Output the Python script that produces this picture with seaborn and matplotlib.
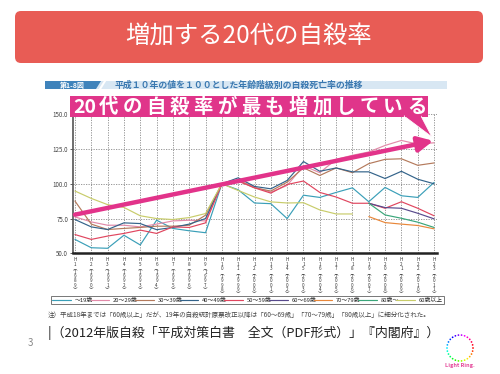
import numpy as np
import pandas as pd
import matplotlib
matplotlib.use('Agg')
import matplotlib.pyplot as plt
from matplotlib.patches import FancyBboxPatch, Polygon, Rectangle
import seaborn as sns

# 横軸（平成／西暦）
nen = ['H%d' % i for i in range(1, 24)]
seireki = ['1989', '1990', '1991', '1992', '1993', '1994', '1995', '1996',
           '1997', '1998', '1999', '2000', '2001', '2002', '2003', '2004',
           '2005', '2006', '2007', '2008', '2009', '2010', '2011']

# 年齢階級と色
kaikyu = ['～19歳', '20～29歳', '30～39歳', '40～49歳', '50～59歳',
          '60～69歳', '70～79歳', '80歳～', '60歳以上']
iro = ['#3a9fb8', '#e28aa9', '#b47a5c', '#33638a', '#e0465f',
       '#584a8c', '#e8873a', '#3aa67a', '#c8cc6a']

nan = np.nan
s_10 = [60, 54, 53.6, 63, 56, 73.8, 67.9, 66.2, 64.8, 100, 95.7, 86.2,
        85.7, 75, 91.8, 90.2, 93.8, 97.1, 87.1, 97.4, 91.4, 90.2, 101]
s_20 = [76.2, 72.6, 70.2, 70.2, 69, 71, 73.3, 73.8, 73.3, 100, 102.9, 97.6,
        94, 98.8, 113, 108, 117.6, 120.5, 122.9, 127.6, 131.2, 128.5, 129.5]
s_30 = [87.6, 71, 67.1, 67.9, 68.6, 69.5, 69.5, 70.2, 77.4, 100, 102.4, 97.1,
        94.8, 101.2, 111.5, 106, 111.4, 108, 114.5, 117.6, 118, 113.3, 115]
s_40 = [74.3, 69, 67.1, 71.9, 71.4, 67, 68.6, 71, 75, 100, 104.3, 98.1,
        96.4, 102.4, 116, 109, 111.4, 108.6, 108.6, 103.8, 109, 103.3, 100]
s_50 = [63.5, 60, 62.4, 64.3, 66.7, 64.3, 69, 68.6, 71.9, 100, 101.9, 97.1,
        93.3, 99.5, 102, 93.8, 90.5, 86, 86, 82.4, 87.1, 82.4, 77]
s_60 = [nan] * 18 + [86, 82.9, 82.4, 78.8, 74.8]
s_70 = [nan] * 18 + [76.4, 72.1, 71, 70, 67.6]
s_80 = [nan] * 18 + [86, 77.6, 75.2, 72.4, 68.6]
s_60ijo = [94.8, 89.5, 85, 83, 77, 75, 74.3, 75.7, 78.6, 100, 95.2, 90.5,
           87, 86.2, 86.4, 81.2, 78.3, 78.3] + [nan] * 5

keiretsu = [s_10, s_20, s_30, s_40, s_50, s_60, s_70, s_80, s_60ijo]

rows = []
for name, vals in zip(kaikyu, keiretsu):
    for i, v in enumerate(vals):
        if not np.isnan(v):
            rows.append((i, v, name))
df = pd.DataFrame(rows, columns=['x', 'val', 'kaikyu'])

sns.set_style('white')
plt.rcParams['font.family'] = ['Noto Sans CJK JP', 'DejaVu Sans']

W, H = 500, 374
fig = plt.figure(figsize=(5, 3.74), dpi=100)
fig.patch.set_facecolor('white')

# グラフ本体
ax = fig.add_axes([73 / W, 1 - 253.3 / H, (437 - 73) / W, (253.3 - 114.3) / H])
sns.lineplot(data=df, x='x', y='val', hue='kaikyu', hue_order=kaikyu,
             palette=dict(zip(kaikyu, iro)), lw=0.85, estimator=None,
             sort=False, ax=ax)

ax.set_xlim(-0.12, 22.18)
ax.set_ylim(50, 150)
ax.set_yticks([50, 75, 100, 125, 150])
ax.set_yticklabels(['50.0', '75.0', '100.0', '125.0', '150.0'])
ax.set_xticks(range(len(nen)))
xlabels = []
for n, s in zip(nen, seireki):
    xlabels.append('\n'.join(list(n)) + '\n︵\n' + '\n'.join(list(s)) + '\n︶')
ax.set_xticklabels(xlabels, fontsize=3.3, linespacing=0.8, va='top')
ax.set_xlabel('')
ax.set_ylabel('')
ax.grid(True, ls=(0, (1.5, 1.5)), color='#888888', lw=0.6)
for k in ['top', 'right']:
    ax.spines[k].set_visible(False)
ax.spines['left'].set_color('#555555')
ax.spines['left'].set_linewidth(1.2)
ax.spines['bottom'].set_color('#222222')
ax.spines['bottom'].set_linewidth(1.8)
ax.tick_params(axis='y', length=2, width=0.6, labelsize=4.5, pad=1.5,
               colors='#444444', left=True)
ax.tick_params(axis='x', length=0, pad=3, colors='#333333')

# 増加の矢印
ax.annotate('', xy=(21.95, 130.9), xytext=(0, 77.8),
            arrowprops=dict(arrowstyle='-|>,head_length=0.9,head_width=0.45',
                            color='#e2338a', lw=3.2, shrinkA=0, shrinkB=0),
            zorder=10)

handles, labels = ax.get_legend_handles_labels()
ax.get_legend().remove()
leg = fig.legend(handles, labels, loc='lower left',
                 bbox_to_anchor=(48 / W, 1 - 307 / H, 399 / W, 10 / H),
                 mode='expand', ncol=9, fontsize=4.2, handlelength=3.2,
                 handletextpad=0.6, columnspacing=1.0, borderpad=0.25,
                 frameon=True, fancybox=False, edgecolor='#555555')
leg.get_frame().set_linewidth(0.7)

# 上に重ねる層（ピクセル座標）
ov = fig.add_axes([0, 0, 1, 1], zorder=5)
ov.set_xlim(0, W)
ov.set_ylim(H, 0)
ov.axis('off')
ov.patch.set_alpha(0)

# タイトル帯
ov.add_patch(FancyBboxPatch((15, 11), 468, 52,
                            boxstyle='round,pad=0,rounding_size=6',
                            fc='#e85c55', ec='none'))
ov.text(249, 37, '増加する20代の自殺率', color='white', fontsize=17.6,
        ha='center', va='center')

# 図の見出し
ov.add_patch(Rectangle((45, 81), 402, 8, fc='#d8e7f3', ec='none'))
ov.add_patch(Polygon([(45, 81), (101, 81), (96, 89), (45, 89)],
                     closed=True, fc='#3f83bb', ec='none'))
ov.plot([105, 100], [81, 89], color='white', lw=1.5)
ov.text(72, 85.2, '第1-8図', color='white', fontsize=5, fontweight='bold',
        ha='center', va='center')
ov.text(115, 85.2, '平成１０年の値を１００とした年齢階級別の自殺死亡率の推移',
        color='#3a78b0', fontsize=6.4, fontweight='bold', ha='left', va='center')

# 吹き出し
ov.add_patch(Rectangle((70, 96), 358, 21, fc='#e0358a', ec='none'))
ov.add_patch(Polygon([(404, 116), (421, 116), (432, 137)], closed=True,
                     fc='#e0358a', ec='white', lw=0.6))
ov.add_patch(Rectangle((404.5, 115.2), 16, 1.6, fc='#e0358a', ec='none'))
moji = ['20', '代', 'の', '自', '殺', '率', 'が', '最', 'も', '増', '加',
        'し', 'て', 'い', 'る']
for xc, m in zip(np.linspace(85, 416.7, len(moji)), moji):
    ov.text(xc, 107, m, color='white', fontsize=14, fontweight='bold',
            ha='center', va='center')

# 注と出典
ov.text(48, 314.5, '注）平成18年までは「60歳以上」だが、19年の自殺統計原票改正以降は'
        '「60～69歳」「70～79歳」「80歳以上」に細分化された。',
        color='#444444', fontsize=4.7, ha='left', va='center')
ov.text(244, 333, '|（2012年版自殺「平成対策白書　全文（PDF形式）」『内閣府』）',
        color='#222222', fontsize=9.3, ha='center', va='center')
ov.text(30, 343, '3', color='#888888', fontsize=7, ha='center', va='center')

# ロゴ
th = np.linspace(0, 2 * np.pi, 26, endpoint=False)
ov.scatter(460 + 13 * np.cos(th), 348 + 13 * np.sin(th), s=1.6,
           c=plt.cm.hsv(np.linspace(0, 1, 26)), linewidths=0)
ov.text(460, 366, 'Light Ring.', color='#e4489a', fontsize=4,
        fontweight='bold', ha='center', va='center')

fig.savefig('out.png', dpi=100, facecolor='white')
